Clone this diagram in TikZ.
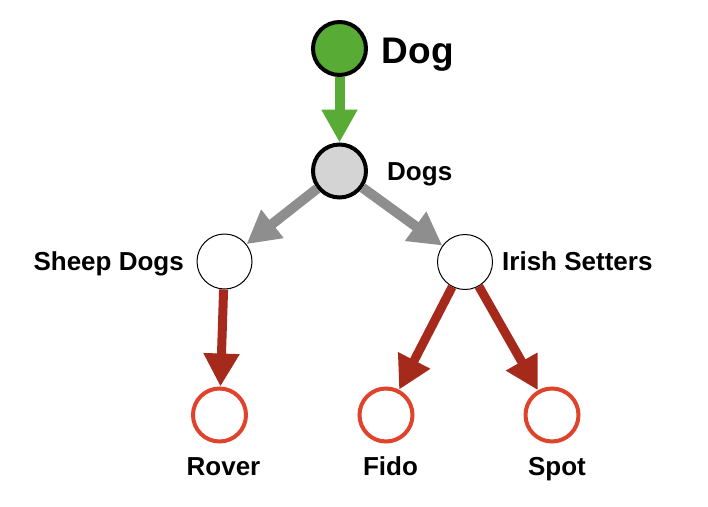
\documentclass[tikz,border=0pt]{standalone}
\usepackage{fontspec}
\setmainfont{Liberation Sans}
\usetikzlibrary{arrows.meta}
\definecolor{dgreen}{HTML}{58AB34}
\definecolor{lgray}{HTML}{D4D4D4}
\definecolor{agray}{HTML}{8E8E8E}
\definecolor{ared}{HTML}{A62A1B}
\definecolor{cred}{HTML}{E0432B}
\tikzset{
  bigcirc/.style={circle,draw=black,line width=4pt,minimum size=53pt,inner sep=0pt},
  thincirc/.style={circle,draw=black,line width=1pt,fill=white,minimum size=55pt,inner sep=0pt},
  redcirc/.style={circle,draw=cred,line width=4pt,fill=white,minimum size=53pt,inner sep=0pt},
  lbl/.style={inner sep=0pt,font=\bfseries\fontsize{26}{30}\selectfont},
  biglbl/.style={inner sep=0pt,font=\bfseries\fontsize{37}{42}\selectfont},
  arr/.style={line width=10pt,-{Triangle[width=34pt,length=33pt]}},
}
\begin{document}
\begin{tikzpicture}[x=1pt,y=-1pt]
\useasboundingbox (0,0) rectangle (708,506);
\node[bigcirc,fill=dgreen] (dog) at (339.5,48.5) {};
\node[bigcirc,fill=lgray] (dogs) at (339.5,171) {};
\node[thincirc] (sheep) at (224.5,261.5) {};
\node[thincirc] (irish) at (465,262) {};
\node[redcirc] (rover) at (219.5,415) {};
\node[redcirc] (fido) at (386,415) {};
\node[redcirc] (spot) at (552,415) {};

\node[biglbl,anchor=base west] (ldog) at (381.5,63) {Dog};
\node[lbl,anchor=base west] (ldogs) at (387,180.5) {Dogs};
\node[lbl,anchor=base east] (lsheep) at (184,270) {Sheep Dogs};
\node[lbl,anchor=base west] (lirish) at (502,270) {Irish Setters};
\node[lbl,anchor=base] (lrover) at (223.5,475) {Rover};
\node[lbl,anchor=base] (lfido) at (390.5,475) {Fido};
\node[lbl,anchor=base] (lspot) at (557,475) {Spot};

\draw[arr,dgreen] (dog) -- (dogs);
\draw[arr,agray] (dogs) -- (sheep);
\draw[arr,agray] (dogs) -- (irish);
\draw[arr,ared,line width=9pt] (sheep) -- (rover);
\draw[arr,ared,line width=9pt] (irish) -- (fido);
\draw[arr,ared,line width=9pt] (irish) -- (spot);
\end{tikzpicture}
\end{document}
